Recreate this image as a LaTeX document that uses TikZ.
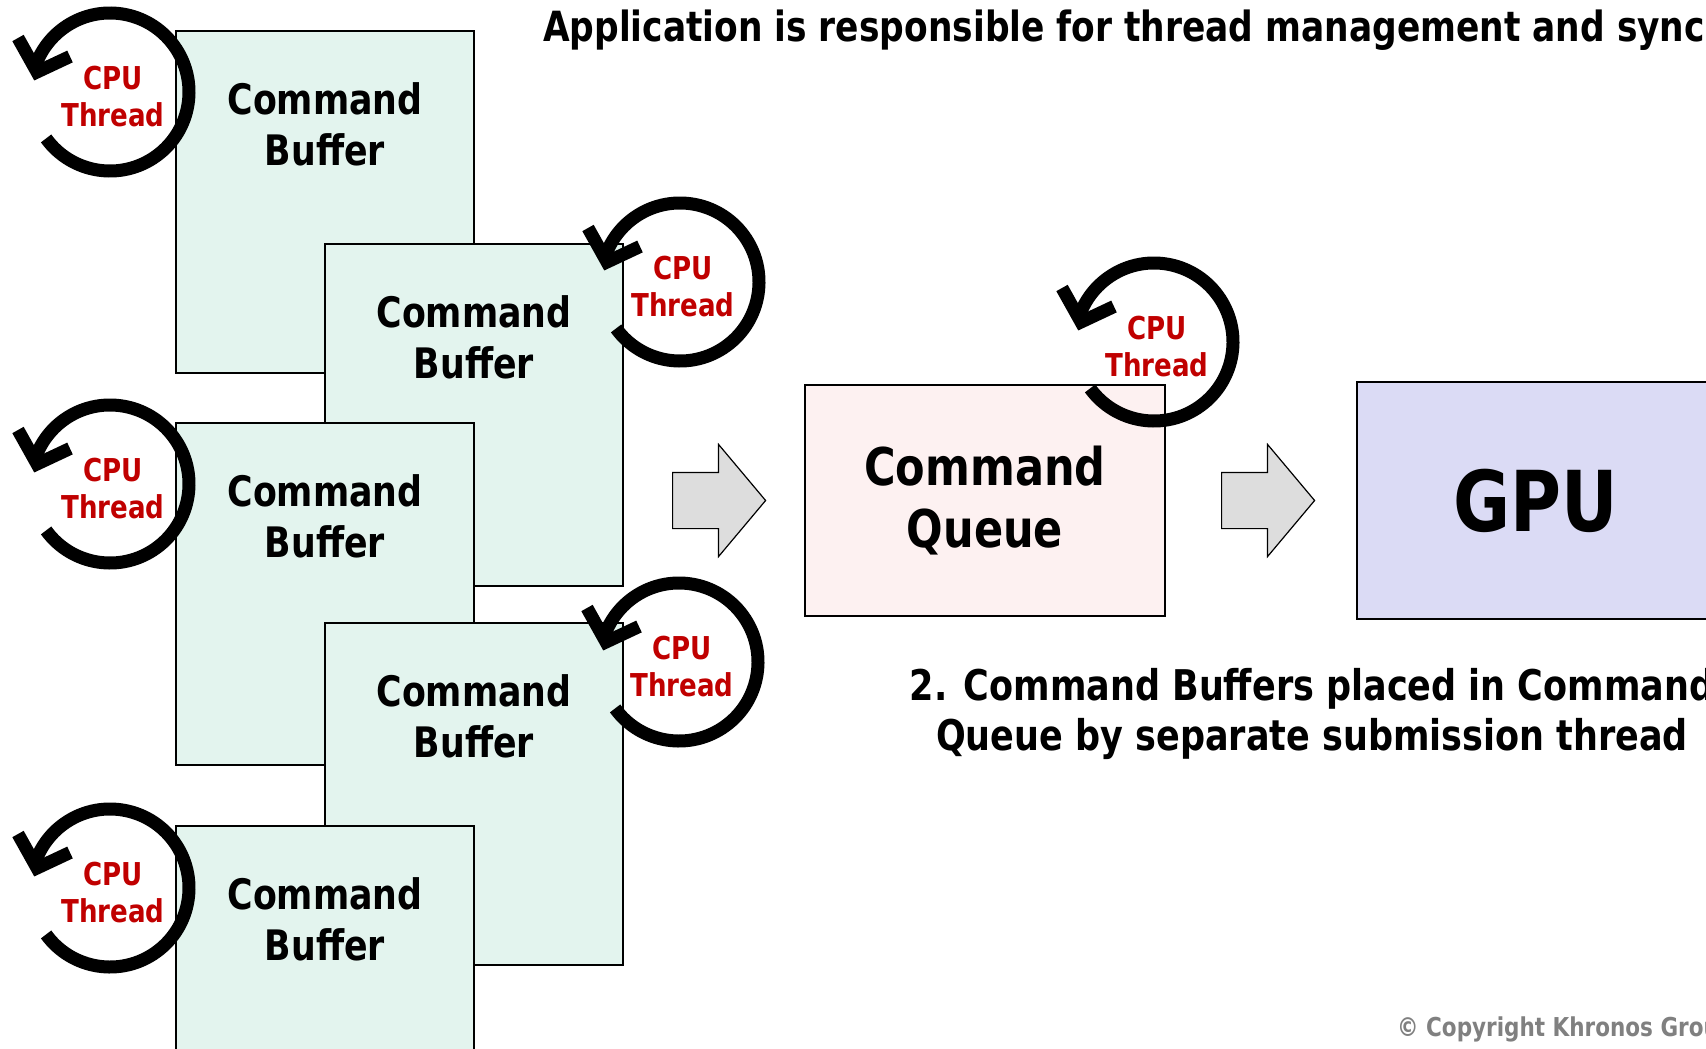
\documentclass[tikz,border=0pt]{standalone}
\usepackage{fontspec}
\setmainfont{DejaVu Sans Condensed Bold}[FakeStretch=0.92]
\usetikzlibrary{shapes.arrows}

\definecolor{bufgreen}{RGB}{227,244,238}
\definecolor{queuepink}{RGB}{253,241,241}
\definecolor{gpublue}{RGB}{219,219,245}
\definecolor{arrowgrey}{RGB}{221,221,221}
\definecolor{threadred}{RGB}{192,0,0}
\definecolor{copygrey}{RGB}{128,128,128}

\begin{document}
\begin{tikzpicture}[x=1pt, y=1pt,
    buf/.style={draw, fill=bufgreen, line width=1.5pt, anchor=north west, inner sep=0pt, outer sep=0pt,
      minimum width=298pt, minimum height=342pt},
    bufname/.style={anchor=north, align=center, inner sep=0pt, font=\fontsize{42}{51}\selectfont},
    ring/.style={line width=13pt},
    thr/.style={anchor=north, align=center, inner sep=0pt, text=threadred, font=\fontsize{31.5}{37}\selectfont},
    flow/.style={single arrow, draw, fill=arrowgrey, line width=1.2pt, anchor=tail, inner xsep=0pt, inner ysep=27.5pt,
      minimum height=93pt, single arrow head extend=28pt, single arrow tip angle=100},
    cputhread/.pic={
      \draw[ring] (216:79) arc[start angle=216, end angle=523, radius=79];
      \draw[ring, miter limit=10] (-92,54) -- (-73,20) -- (-40,35.5);
      \node[thr] (-lbl) at (3,26.5) {CPU\\Thread};
    }
  ]
  \path[use as bounding box, clip] (0,0) rectangle (1706,-1049);

  \node[anchor=base west, inner sep=0pt, font=\fontsize{41.6}{48}\selectfont] (title) at (543,-41.7)
    {Application is responsible for thread management and synchronization};

  % staggered command buffers, one recording thread each
  \node[buf] (b1) at (176,-31) {};
  \node[bufname] (b1t) at ([yshift=-51pt]b1.north) {Command\\Buffer};
  \pic (t1) at (110,-92) {cputhread};

  \node[buf] (b2) at (325,-244) {};
  \node[bufname] (b2t) at ([yshift=-51pt]b2.north) {Command\\Buffer};
  \pic (t2) at (680,-282) {cputhread};

  \node[buf] (b3) at (176,-423) {};
  \node[bufname] (b3t) at ([yshift=-51pt]b3.north) {Command\\Buffer};
  \pic (t4) at (110,-484) {cputhread};

  \node[buf] (b4) at (325,-623) {};
  \node[bufname] (b4t) at ([yshift=-51pt]b4.north) {Command\\Buffer};
  \pic (t5) at (679,-662) {cputhread};

  \node[buf] (b5) at (176,-826) {};
  \node[bufname] (b5t) at ([yshift=-51pt]b5.north) {Command\\Buffer};
  \pic (t6) at (110,-888) {cputhread};

  % submission
  \node[flow] (f1) at (672,-500.5) {};
  \node[draw, fill=queuepink, line width=1.5pt, minimum width=360pt, minimum height=231pt,
    align=center, font=\fontsize{52}{62}\selectfont] (queue) at (985,-500.5) {Command\\Queue};
  \pic (t3) at (1154,-342) {cputhread};

  \node[flow] (f2) at (1221,-500.5) {};
  \node[draw, fill=gpublue, line width=1.5pt, minimum width=358pt, minimum height=237pt,
    font=\fontsize{84}{84}\selectfont] (gpu) at (1536,-500.5) {GPU};

  \node[anchor=north, align=center, inner sep=0pt, font=\fontsize{42.3}{50}\selectfont] (note) at (1312,-668.5)
    {2. Command Buffers placed in Command\\Queue by separate submission thread};

  \node[anchor=base west, inner sep=0pt, text=copygrey, font=\fontsize{26}{31}\selectfont] (copy) at (1397,-1036)
    {© Copyright Khronos Group};
\end{tikzpicture}
\end{document}
